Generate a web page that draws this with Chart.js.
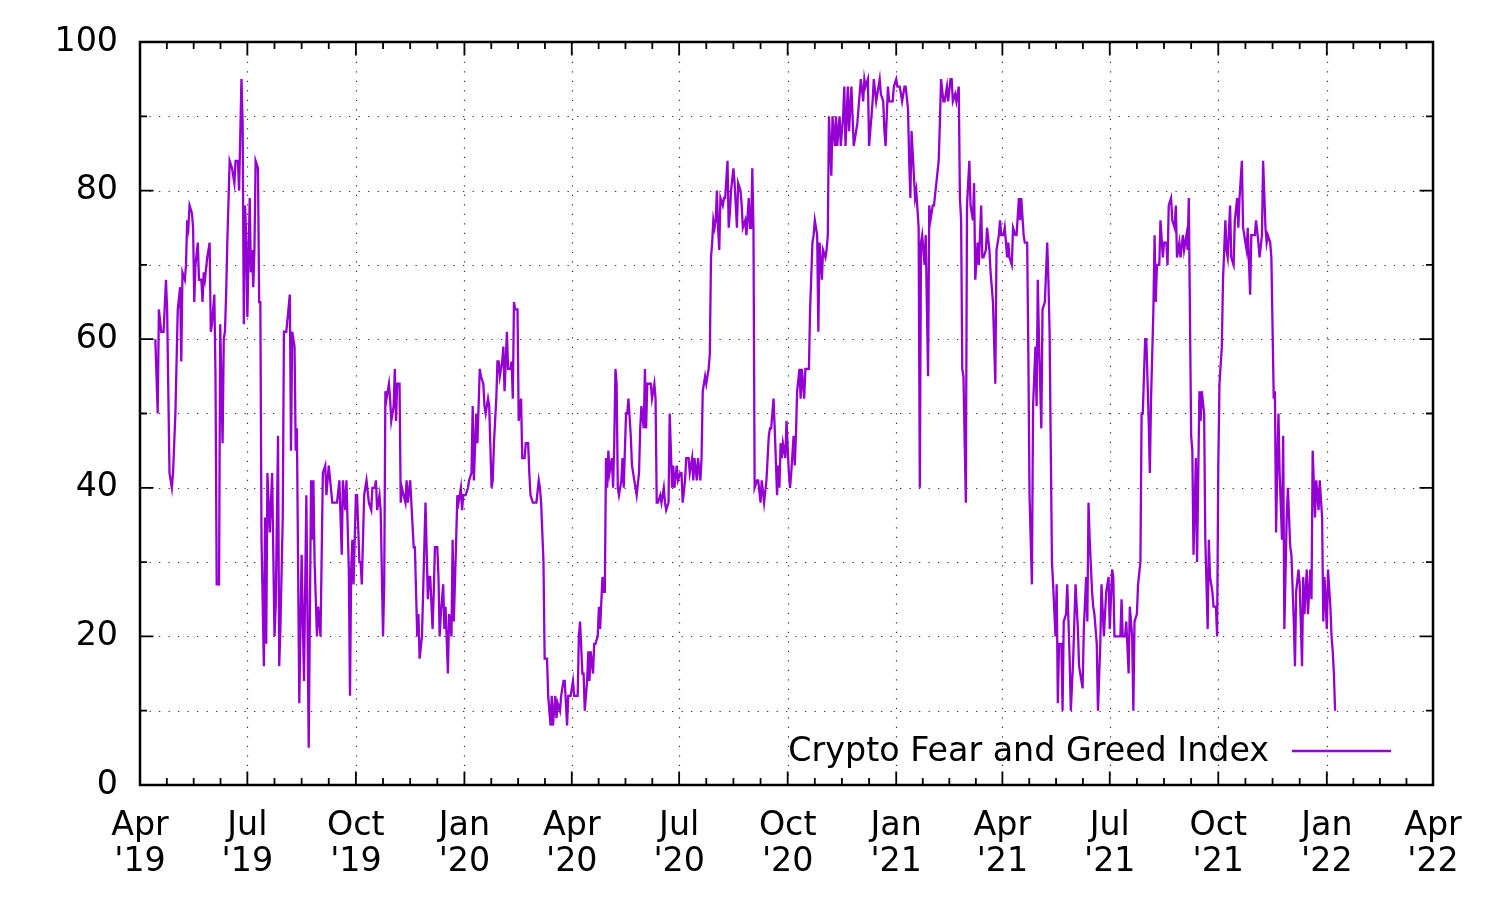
<!DOCTYPE html>
<html lang="en">
<head>
<meta charset="UTF-8">
<title>Crypto Fear and Greed Index</title>
<script src="https://cdn.jsdelivr.net/npm/chart.js"></script>
<style>
    html, body {
        margin: 0;
        padding: 0;
        background: #fff;
    }
    #wrap {
        width: 1499px;
        height: 899px;
    }
</style>
</head>
<body>
<div id="wrap"><canvas id="fgChart" width="1499" height="899"></canvas></div>
<script>
    // x values are days counted from startDate
    const startDate = '2019-04-01';
    const seriesLabel = 'Crypto Fear and Greed Index';

    const dayOffsets = [
        13,15,16,18,19,20,22,23,25,27,28,30,32,34,35,36,38,39,40,41,42,44,45,46,47,49,50,52,53,54,
        55,57,59,60,61,63,64,65,67,68,70,71,72,73,74,76,78,80,81,83,84,86,87,88,89,90,91,93,94,95,
        96,97,98,100,101,102,103,105,106,107,108,110,112,114,115,117,118,119,121,122,124,127,128,129,131,132,133,135,137,139,
        141,143,145,146,147,148,150,151,153,155,157,158,160,163,167,169,171,172,
        174,175,177,178,179,180,181,183,184,186,187,188,190,192,194,196,197,199,200,201,
        203,204,206,207,208,209,211,212,213,215,216,217,218,220,221,222,225,226,227,229,
        230,232,233,235,236,237,239,241,242,244,245,246,248,249,250,252,253,254,255,257,
        258,259,261,262,264,265,266,268,269,270,272,273,274,276,278,279,281,282,283,285,
        286,288,289,291,292,293,295,296,298,299,300,302,303,304,305,307,308,309,311,312,
        314,315,316,317,318,320,321,323,324,326,327,329,330,331,333,335,336,338,339,
        340,342,343,345,346,348,349,350,352,353,354,356,357,359,360,362,363,364,365,367,
        368,369,371,372,373,375,376,377,379,380,381,382,384,385,386,388,389,390,392,393,
        394,395,396,397,398,400,401,402,403,404,405,406,408,409,410,412,413,414,416,417,
        418,420,421,423,424,425,427,428,429,430,431,433,434,436,437,438,439,441,442,444,
        445,446,448,449,451,452,453,455,456,458,459,460,462,463,465,466,468,469,470,472,
        473,475,476,477,479,480,482,483,484,485,486,487,488,489,490,491,492,494,495,496,
        498,499,500,501,503,504,506,507,
        509,510,511,513,514,516,517,518,519,520,521,523,524,526,527,529,531,532,533,534,
        535,537,538,540,541,542,543,544,545,547,548,550,551,552,554,555,556,557,559,560,
        561,563,564,566,567,568,570,571,572,574,575,576,578,579,581,582,583,584,586,587,
        589,590,591,593,594,596,597,598,600,601,603,604,605,607,608,610,611,613,614,615,
        617,618,620,621,622,624,625,627,628,630,631,632,634,635,637,638,639,641,642,644,
        645,646,648,649,651,652,653,654,656,657,658,660,661,662,663,665,666,668,669,670,
        672,673,675,677,678,
        679,681,682,684,685,687,688,689,691,692,694,695,696,697,698,700,701,703,704,706,
        707,708,710,711,713,714,715,717,718,720,721,723,725,726,728,729,730,732,733,735,
        736,737,739,740,742,743,745,746,747,749,750,752,753,754,756,757,759,760,761,762,
        764,765,767,768,769,770,771,773,774,776,777,778,779,781,782,783,785,786,788,789,
        791,792,793,795,796,798,799,800,802,803,804,805,807,808,809,811,812,814,815,817,
        818,819,821,822,824,825,826,828,829,831,832,833,835,836,838,839,841,842,843,845,
        846,848,849,850,852,
        853,855,856,857,859,860,861,862,864,865,867,868,870,871,872,874,875,877,878,879,
        881,882,884,885,887,888,889,891,892,893,895,896,898,899,900,902,903,905,906,907,
        909,910,912,913,914,915,917,918,920,921,922,924,925,927,928,930,931,932,934,935,
        937,938,939,941,942,944,945,946,948,949,951,952,954,955,956,958,959,961,962,963,
        964,965,966,968,969,970,972,973,975,976,978,979,980,982,983,985,986,987,989,990,
        992,993,994,996,997,999,1000,1002,1003,1004,1006,1007,1009,1010,1011,1012,1013
    ];

    const indexValues = [
        60,50,64,61,61,61,68,64,42,40,42,50,64,67,57,69,68,70,76,75,78,77,75,65,70,73,68,68,65,69,
        68,71,73,61,62,66,55,27,27,62,46,60,61,66,73,84,83,81,84,84,80,95,89,62,78,74,63,79,69,72,
        67,72,84,83,65,65,33,16,36,19,42,34,42,20,24,47,16,21,36,61,61,66,45,61,59,45,48,11,31,14,
        39,5,41,33,41,30,20,24,20,42,43,39,43,38,38,41,31,41,
        37,41,29,12,29,33,27,39,39,30,30,27,39,41,38,37,40,40,41,37,
        39,37,20,27,53,52,54,52,49,51,56,49,54,54,38,40,38,41,38,41,
        38,32,32,20,23,17,20,32,38,25,28,28,21,26,32,32,28,20,23,27,
        21,24,15,23,20,33,22,33,39,38,40,37,39,39,40,41,42,51,41,50,
        46,56,55,54,51,50,52,51,40,41,46,52,57,57,55,57,59,53,61,56,
        56,57,52,65,64,64,49,52,44,44,46,46,42,39,38,38,38,41,40,
        38,30,17,17,12,8,12,8,12,9,11,10,12,14,14,8,12,12,12,14,
        12,12,12,20,22,15,15,10,14,18,14,18,15,19,19,20,24,21,28,26,
        26,44,40,45,42,44,40,46,56,54,40,39,41,44,40,50,50,52,47,43,
        42,40,39,42,48,51,48,56,48,54,54,54,52,54,52,38,38,39,38,40,
        38,37,38,50,40,43,40,43,41,42,42,38,41,44,44,42,44,41,44,41,
        44,41,44,53,55,54,56,58,71,73,76,75,76,80,75,72,79,78,79,79,
        84,75,77,80,83,81,75,81,
        80,78,75,76,74,79,75,75,83,75,40,41,41,38,41,38,41,44,47,48,
        48,52,48,39,43,40,46,44,46,44,49,42,40,42,47,43,47,53,56,52,
        56,52,56,56,56,64,73,74,76,74,61,73,68,72,71,72,74,90,82,90,
        86,90,86,90,86,90,94,86,94,88,94,90,86,88,89,93,95,92,95,94,
        95,86,90,92,95,92,93,95,93,92,88,86,94,92,92,92,94,95,94,94,
        93,92,94,94,91,84,79,88,82,79,80,75,40,73,74,70,74,55,78,76,
        78,78,81,84,89,
        95,92,92,94,92,95,95,92,93,92,94,79,76,56,55,38,78,84,78,76,
        81,68,73,70,78,71,71,72,75,72,69,65,54,72,74,76,74,74,75,71,
        73,71,70,75,74,74,79,76,79,74,73,73,58,39,27,51,59,51,68,60,
        48,64,65,69,73,68,61,30,27,20,27,11,19,19,10,22,23,27,17,10,
        17,22,27,21,16,14,13,21,28,22,38,33,26,24,23,19,10,19,27,20,
        23,26,28,21,29,28,20,20,20,20,25,20,20,22,15,24,20,10,22,23,
        27,30,50,50,60,
        60,49,42,52,64,74,65,70,70,76,71,73,73,70,78,79,76,75,78,71,
        73,71,74,72,74,72,79,47,45,31,44,30,53,49,53,50,33,21,33,28,
        26,24,24,20,43,54,59,68,76,72,71,78,71,70,76,79,75,79,84,75,
        73,72,75,66,74,74,74,76,73,71,74,84,75,73,74,73,71,52,53,34,
        43,50,42,33,47,21,36,40,32,31,22,16,26,29,27,16,28,23,29,23,
        29,25,45,36,41,37,41,36,22,28,21,29,24,20,18,15,10
    ];

    // quarter starts carry the x tick labels
    const quarterDates = [
        '2019-04-01', '2019-07-01', '2019-10-01', '2020-01-01', '2020-04-01', '2020-07-01', '2020-10-01',
        '2021-01-01', '2021-04-01', '2021-07-01', '2021-10-01', '2022-01-01', '2022-04-01'
    ];
    const quarterLabels = [
        ['Apr', "'19"], ['Jul', "'19"], ['Oct', "'19"], ['Jan', "'20"], ['Apr', "'20"], ['Jul', "'20"], ['Oct', "'20"],
        ['Jan', "'21"], ['Apr', "'21"], ['Jul', "'21"], ['Oct', "'21"], ['Jan', "'22"], ['Apr', "'22"]
    ];
    const yMajorTicks = [0, 20, 40, 60, 80, 100];
    const yMinorTicks = [10, 30, 50, 70, 90];

    const lineColor = '#9400d3';
    const fontFamily = "'DejaVu Sans', 'Liberation Sans', sans-serif";
    const fontSize = 33.3;

    function dayOf(dateStr) {
        return (Date.parse(dateStr) - Date.parse(startDate)) / 86400000;
    }

    const pointCount = Math.min(dayOffsets.length, indexValues.length);
    const points = [];
    for (let i = 0; i < pointCount; i++) {
        points.push({ x: dayOffsets[i], y: indexValues[i] });
    }

    // gnuplot look: dotted grid, inward ticks on all four sides, plain frame, key inside
    const gnuplotFrame = {
        id: 'gnuplotFrame',
        beforeDatasetsDraw(chart) {
            const { ctx, chartArea: a, scales: { x, y } } = chart;
            ctx.save();
            ctx.strokeStyle = '#333';
            ctx.lineWidth = 1.2;
            ctx.setLineDash([1.3, 8.2]);
            ctx.beginPath();
            yMajorTicks.concat(yMinorTicks).forEach(v => {
                if (v === 0 || v === 100) return;
                const py = Math.round(y.getPixelForValue(v)) + 0.5;
                ctx.moveTo(a.left, py);
                ctx.lineTo(a.right, py);
            });
            quarterDates.slice(1, -1).forEach(d => {
                const px = Math.round(x.getPixelForValue(dayOf(d))) + 0.5;
                ctx.moveTo(px, a.bottom);
                ctx.lineTo(px, a.top);
            });
            ctx.stroke();
            ctx.restore();
        },
        afterDatasetsDraw(chart) {
            const { ctx, chartArea: a, scales: { x, y } } = chart;
            const major = 13.5, minor = 7;
            ctx.save();
            ctx.strokeStyle = '#000';
            ctx.lineWidth = 1.8;
            ctx.setLineDash([]);
            ctx.beginPath();
            // x ticks, bottom and top
            quarterDates.forEach((d, i) => {
                const px = x.getPixelForValue(dayOf(d));
                ctx.moveTo(px, a.bottom); ctx.lineTo(px, a.bottom - major);
                ctx.moveTo(px, a.top); ctx.lineTo(px, a.top + major);
                if (i < quarterDates.length - 1) {
                    const next = dayOf(quarterDates[i + 1]);
                    const cur = dayOf(d);
                    for (let k = 1; k < 4; k++) {
                        const mx = x.getPixelForValue(cur + (next - cur) * k / 4);
                        ctx.moveTo(mx, a.bottom); ctx.lineTo(mx, a.bottom - minor);
                        ctx.moveTo(mx, a.top); ctx.lineTo(mx, a.top + minor);
                    }
                }
            });
            // y ticks, left and right
            yMajorTicks.forEach(v => {
                const py = y.getPixelForValue(v);
                ctx.moveTo(a.left, py); ctx.lineTo(a.left + major, py);
                ctx.moveTo(a.right, py); ctx.lineTo(a.right - major, py);
            });
            yMinorTicks.forEach(v => {
                const py = y.getPixelForValue(v);
                ctx.moveTo(a.left, py); ctx.lineTo(a.left + minor, py);
                ctx.moveTo(a.right, py); ctx.lineTo(a.right - minor, py);
            });
            ctx.stroke();
            ctx.lineWidth = 2.5;
            ctx.strokeRect(a.left, a.top, a.right - a.left, a.bottom - a.top);

            // key
            const keyY = a.bottom - 34;
            const sampleEnd = a.right - 42;
            const sampleStart = sampleEnd - 99;
            ctx.strokeStyle = lineColor;
            ctx.lineWidth = 2.3;
            ctx.beginPath();
            ctx.moveTo(sampleStart, keyY);
            ctx.lineTo(sampleEnd, keyY);
            ctx.stroke();
            ctx.fillStyle = '#000';
            ctx.font = fontSize + 'px ' + fontFamily;
            ctx.textAlign = 'right';
            ctx.textBaseline = 'middle';
            ctx.fillText(chart.data.datasets[0].label, sampleStart - 23, keyY + 1);
            ctx.restore();
        }
    };

    const ctx = document.getElementById('fgChart').getContext('2d');
    const chart = new Chart(ctx, {
        type: 'line',
        data: {
            datasets: [{
                label: seriesLabel,
                data: points,
                borderColor: lineColor,
                borderWidth: 2.3,
                pointRadius: 0,
                tension: 0,
                fill: false
            }]
        },
        options: {
            responsive: false,
            animation: false,
            devicePixelRatio: 1,
            layout: { padding: { left: 0, right: 66, top: 38, bottom: 0 } },
            plugins: {
                legend: { display: false },
                tooltip: { enabled: false }
            },
            scales: {
                x: {
                    type: 'linear',
                    min: 0,
                    max: dayOf(quarterDates[quarterDates.length - 1]),
                    afterBuildTicks: scale => {
                        scale.ticks = quarterDates.map(d => ({ value: dayOf(d) }));
                    },
                    afterFit: scale => { scale.height = 114; },
                    grid: { display: false, drawTicks: false },
                    border: { display: false },
                    ticks: {
                        autoSkip: false,
                        maxRotation: 0,
                        padding: 23,
                        color: '#000',
                        font: { family: fontFamily, size: fontSize, lineHeight: 1.08 },
                        callback: (value, index) => quarterLabels[index]
                    }
                },
                y: {
                    min: 0,
                    max: 100,
                    afterBuildTicks: scale => {
                        scale.ticks = yMajorTicks.map(v => ({ value: v }));
                    },
                    afterFit: scale => { scale.width = 140; },
                    grid: { display: false, drawTicks: false },
                    border: { display: false },
                    ticks: {
                        padding: 22,
                        color: '#000',
                        font: { family: fontFamily, size: fontSize }
                    }
                }
            }
        },
        plugins: [gnuplotFrame]
    });
</script>
</body>
</html>
